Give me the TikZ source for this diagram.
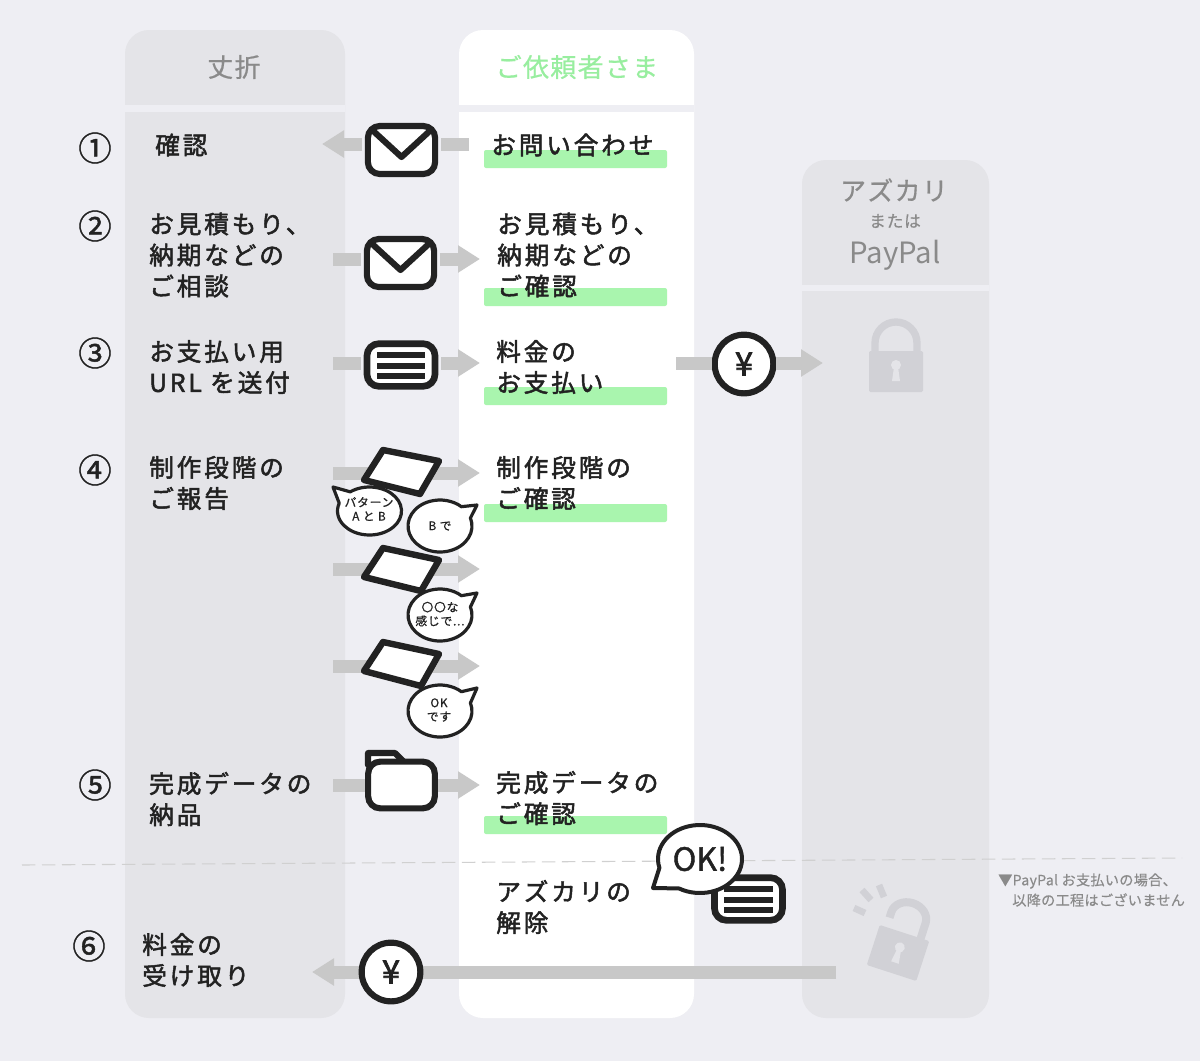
\documentclass[tikz,border=0pt]{standalone}
\usepackage{fontspec}
\usetikzlibrary{arrows.meta,shapes.geometric}
\setmainfont{Noto Sans CJK JP}
\newfontfamily\jpw[LetterSpace=11.5,FakeBold=2]{Noto Sans CJK JP}
\newfontfamily\jps[LetterSpace=5,FakeBold=0.6]{Noto Sans CJK JP}
\newfontfamily\jpn[LetterSpace=2.2,FakeBold=0.4]{Noto Sans CJK JP}
\newfontfamily\jpt[LetterSpace=7,FakeBold=0.8]{Noto Sans CJK JP}
\newfontfamily\jpb[FakeBold=2.5]{Noto Sans CJK JP}
\newfontfamily\jpo[FakeBold=1.3]{Noto Sans CJK JP}
\definecolor{bgc}{HTML}{EEEEF3}
\definecolor{colc}{HTML}{E4E4E8}
\definecolor{ink}{HTML}{222222}
\definecolor{flowc}{HTML}{C8C8C8}
\definecolor{dashc}{HTML}{D0D0D0}
\definecolor{markg}{HTML}{A9F5AE}
\definecolor{headg}{HTML}{8A8A8A}
\definecolor{headgreen}{HTML}{98EE9F}
\definecolor{lockc}{HTML}{D1D1D6}
\tikzset{
  shaft/.style={draw=flowc,line width=9.75pt},
  flow/.style={shaft,-{Triangle[width=19.5pt,length=16.5pt]}},
  lbl/.style={anchor=west,align=left,inner sep=0,text=ink,font=\fontsize{18.5}{23.3}\selectfont\jpw},
  numb/.style={inner sep=0,text=ink,font=\fontsize{25}{25}\selectfont\jpo},
  icon/.style={draw=ink,fill=white,line width=4.6pt,rounded corners=9pt,inner sep=0,minimum width=50.5pt,minimum height=36pt},
  doc/.style={icon,line width=5pt,minimum width=51pt,minimum height=32pt},
  bar/.style={draw=ink,line width=4.5pt},
  card/.style={draw=ink,fill=white,line width=4.8pt,line join=round},
  coin/.style={circle,draw=ink,fill=white,line width=4.6pt,inner sep=0,minimum size=44pt,text=ink,font=\fontsize{24}{24}\selectfont\jpb},
  bub/.style={draw=ink,fill=white,line width=2.4pt,line join=round},
  bubt/.style={inner sep=0,align=center,text=ink,font=\fontsize{8.8}{10.4}\selectfont\jpt},
  note/.style={anchor=west,inner sep=0,text=headg,font=\fontsize{10.6}{14}\selectfont\jpn},
  headt/.style={inner sep=0,text=headg,font=\fontsize{19.5}{20}\selectfont\jps},
}
% centre x,y; radii; start/end angle; tail tip
\newcommand{\bubshape}[8]{\path[bub] ({#1+#3*cos(#5)},{#2+#4*sin(#5)}) arc[start angle=#5,end angle=#6,x radius=#3,y radius=#4] -- (#7,#8) -- cycle;}
\begin{document}
\begin{tikzpicture}[x=0.75pt,y=-0.75pt]
\useasboundingbox (0,0) rectangle (1200,1061);
\fill[bgc] (0,0) rectangle (1200,1061);
% columns
\fill[colc,rounded corners=18pt] (125,30) rectangle (345,1018);
\fill[white,rounded corners=18pt] (459,30) rectangle (694,1018);
\fill[colc,rounded corners=18pt] (802,160) rectangle (989,1018);
\fill[bgc] (125,105) rectangle (345,112);
\fill[bgc] (459,105) rectangle (694,112);
\fill[bgc] (802,285) rectangle (989,291);
% dashed divider
\coordinate (dl) at (22,865);
\coordinate (dr) at (1182,858);
\draw[dashc,line width=0.8pt,dash pattern=on 10pt off 5pt] (dl) -- (dr);
% headers
\node[headt] (h1) at (234,67) {丈折};
\node[headt,text=headgreen] (h2) at (577,67) {ご依頼者さま};
\node[headt] (h3) at (894,190) {アズカリ};
\node[headt,font=\fontsize{12.5}{12.5}\selectfont\jps] (h4) at (895,221) {または};
\node[headt,font=\fontsize{22}{22}\selectfont] (h5) at (895,255) {PayPal};
% green marks
\foreach \y in {150,288,387,504,816}
  \fill[markg,rounded corners=1.5pt] (484,\y) rectangle (667,\y+18);
% numbers
\node[numb] (n1) at (95,148) {①};
\node[numb] (n2) at (95,226) {②};
\node[numb] (n3) at (95,353) {③};
\node[numb] (n4) at (95,470) {④};
\node[numb] (n5) at (95,785) {⑤};
\node[numb] (n6) at (89,946) {⑥};
% left labels
\node[lbl] (l1) at (155,145) {確認};
\node[lbl] (l2) at (149,255) {お見積もり、\\納期などの\\ご相談};
\node[lbl] (l3) at (149,367) {お支払い用\\URL を送付};
\node[lbl] (l4) at (149,483) {制作段階の\\ご報告};
\node[lbl] (l5) at (149,799) {完成データの\\納品};
\node[lbl] (l6) at (142,960) {料金の\\受け取り};
% right labels
\node[lbl] (r1) at (491,145) {お問い合わせ};
\node[lbl] (r2) at (497,255) {お見積もり、\\納期などの\\ご確認};
\node[lbl] (r3) at (496,367) {料金の\\お支払い};
\node[lbl] (r4) at (496,483) {制作段階の\\ご確認};
\node[lbl] (r5) at (496,798) {完成データの\\ご確認};
\node[lbl] (r6) at (496,907) {アズカリの\\解除};
% note
\node[note] (t1) at (998,881) {▼PayPal お支払いの場合、};
\node[note] (t2) at (1012,900) {以降の工程はございません};
% icons
\node[icon] (m1) at (401.5,150) {};
\draw[ink,line width=4.6pt,line join=round] (370,128) -- (401.5,157) -- (433,128);
\node[icon] (m2) at (400.5,263) {};
\draw[ink,line width=4.6pt,line join=round] (369,241) -- (400.5,270) -- (432,241);
\node[doc] (d1) at (401,365) {};
\foreach \y in {355,366,376} \draw[bar] (377,\y) -- (425,\y);
\node[coin] (c1) at (744,364) {¥};
\coordinate (f1a) at (469,144); \coordinate (f1b) at (322,144);
\coordinate (f2a) at (333,259); \coordinate (f2b) at (480,259);
\coordinate (f3a) at (333,363); \coordinate (f3b) at (480,363);
\coordinate (f4a) at (676,363); \coordinate (f4b) at (823,363);
\coordinate (f5a) at (333,473); \coordinate (f5b) at (480,473);
\coordinate (f6a) at (333,569); \coordinate (f6b) at (480,569);
\coordinate (f7a) at (333,666); \coordinate (f7b) at (480,666);
\coordinate (f8a) at (333,785); \coordinate (f8b) at (480,785);
\coordinate (f9a) at (836,972); \coordinate (f9b) at (312,972);
\draw[shaft] (f1a) -- ([xshift=2pt]m1.east |- f1a);
\draw[flow] ([xshift=-2pt]m1.west |- f1a) -- (f1b);
\draw[shaft] (f2a) -- ([xshift=-2pt]m2.west |- f2a);
\draw[flow] ([xshift=2pt]m2.east |- f2a) -- (f2b);
\draw[shaft] (f3a) -- ([xshift=-2pt]d1.west |- f3a);
\draw[flow] ([xshift=2pt]d1.east |- f3a) -- (f3b);
\draw[shaft] (f4a) -- (c1.west |- f4a);
\draw[flow] (c1.east |- f4a) -- (f4b);
\draw[flow] (f5a) -- (f5b);
\draw[flow] (f6a) -- (f6b);
\draw[flow] (f7a) -- (f7b);
\draw[flow] (f8a) -- (f8b);
\draw[flow] (f9a) -- (f9b);
\node[coin] (c2) at (391,972) {¥};
% cards
\draw[card] (383,450) -- (439,461) -- (420,494) -- (364,480) -- cycle;
\draw[card] (383,548) -- (439,560) -- (421,591) -- (364,577) -- cycle;
\draw[card] (383,642) -- (439,654) -- (421,686) -- (364,671) -- cycle;
% folder
\draw[draw=ink,fill=white,line width=4.6pt,line join=round] (368,765) -- (368,753) -- (395,753) -- (404,762) -- (420,765) -- cycle;
\node[icon,minimum height=35pt,minimum width=50pt] (fo) at (401.5,785) {};
% bubbles
\bubshape{369.5}{511}{32}{24}{233}{559}{333}{487}
\node[bubt] (b1) at (369,509) {パターン\\A と B};
\bubshape{440}{526}{32}{26}{342}{672}{477}{505}
\node[bubt] (b2) at (440,526) {B で};
\bubshape{440}{615}{32}{26}{342}{672}{477}{593}
\node[bubt] (b3) at (440,614) {〇〇な\\感じで...};
\bubshape{440}{711}{32}{26}{342}{672}{477}{688}
\node[bubt] (b4) at (439,710) {OK\\です};
% last doc + OK bubble
\node[doc] (d2) at (748.5,899) {};
\foreach \y in {889,900,910} \draw[bar] (724,\y) -- (773,\y);
\begin{scope}[bub/.append style={line width=3pt}]
\bubshape{700}{859}{42}{34}{165}{480}{653}{888}
\end{scope}
\node[inner sep=0,text=ink,font=\fontsize{24}{24}\selectfont\jpo] (ok) at (700,859) {OK!};
% closed lock
\draw[lockc,line width=5.5pt] (875,352) -- (875,343) arc[start angle=180,end angle=360,x radius=21,y radius=21] -- (917,352);
\fill[lockc,rounded corners=1pt] (869,351) rectangle (923,392);
\fill[colc] (896,365) circle[radius=5];
\fill[colc] (894,367) -- (898,367) -- (900,381) -- (892,381) -- cycle;
% open lock
\begin{scope}[shift={(898,953)},rotate=-18]
\fill[lockc,rounded corners=1pt] (-26,-21) rectangle (26,21);
\draw[lockc,line width=6pt] (-19,-31) -- (-19,-37) arc[start angle=180,end angle=360,x radius=18,y radius=15] -- (17,-20);
\fill[colc] (0,-6) circle[radius=5];
\fill[colc] (-2,-4) -- (2,-4) -- (4,10) -- (-4,10) -- cycle;
\end{scope}
\draw[lockc,line width=5pt] (854,908) -- (865,913);
\draw[lockc,line width=5pt] (862,890) -- (871,900);
\draw[lockc,line width=5pt] (879,885) -- (884,897);
\end{tikzpicture}
\end{document}
